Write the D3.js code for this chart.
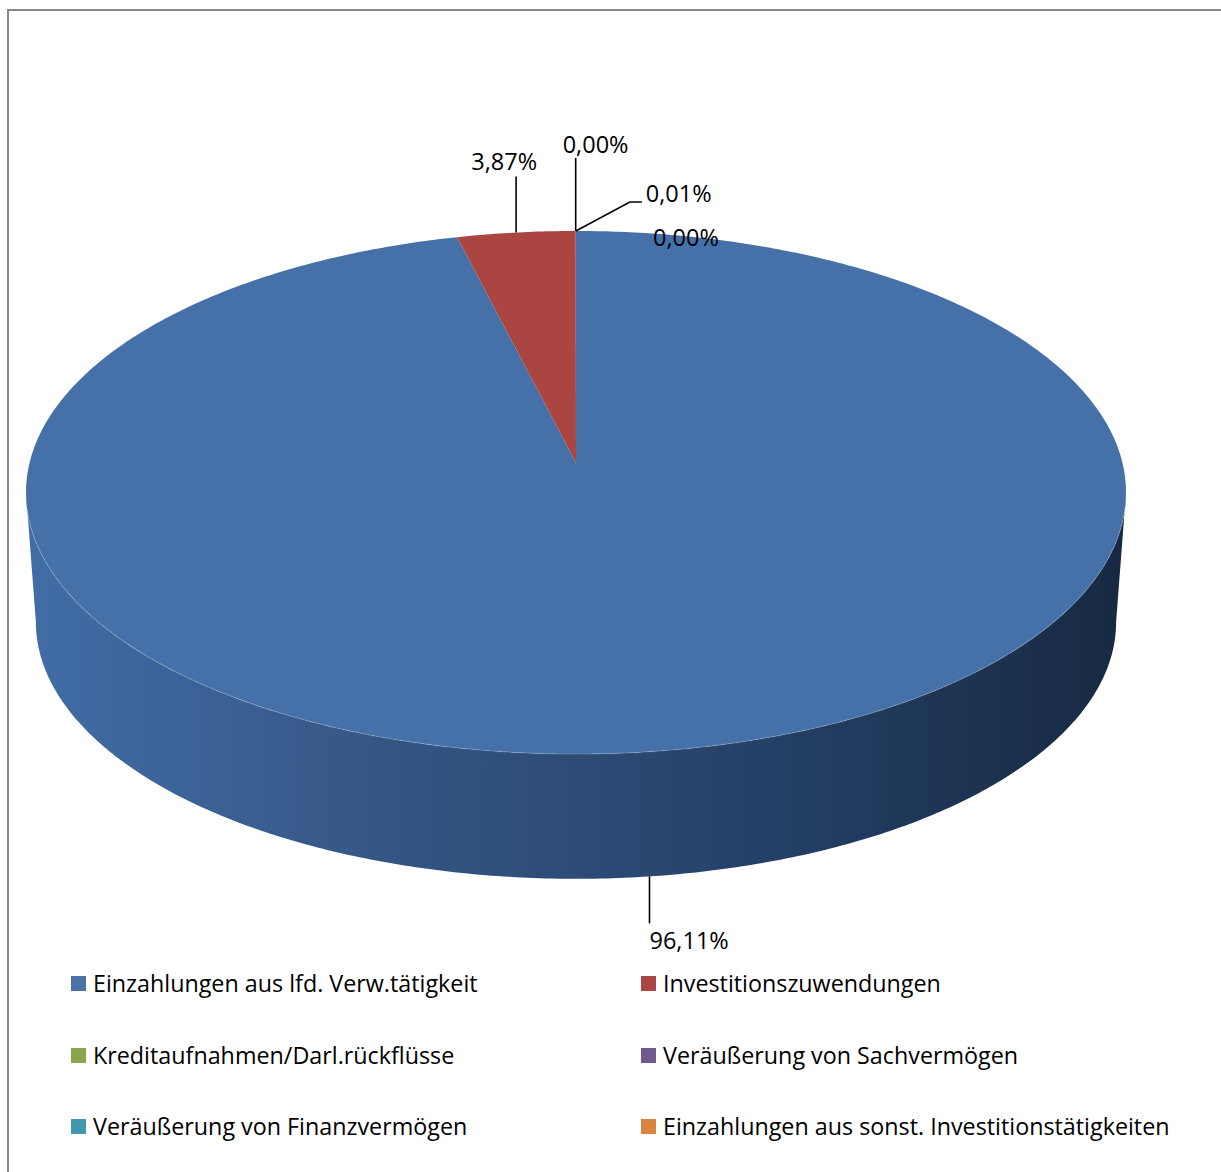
<!DOCTYPE html>
<html>
<head>
<meta charset="utf-8">
<script src="https://cdn.jsdelivr.net/npm/d3@7"></script>
<style>
  body { margin: 0; background: #fff; }
  text { font-family: "Open Sans", "Noto Sans", sans-serif; fill: #000; font-variant-ligatures: none; }
</style>
</head>
<body>
<div id="chart"></div>
<script>
// categories and shares (percent)
var categories = [
	"Einzahlungen aus lfd. Verw.tätigkeit",
	"Investitionszuwendungen",
	"Kreditaufnahmen/Darl.rückflüsse",
	"Veräußerung von Sachvermögen",
	"Veräußerung von Finanzvermögen",
	"Einzahlungen aus sonst. Investitionstätigkeiten"
];
var values = [96.11, 3.87, 0.00, 0.01, 0.00, 0.00];
var topColors = ["#4571a8", "#aa4541", "#89a54e", "#71588f", "#4198af", "#db843d"];
var legendColors = ["#4a72a6", "#aa4643", "#89a54e", "#71588f", "#4198af", "#db843d"];

var W = 1221, H = 1172;

//=================== GEOMETRY ====================================
var cx = 576, cy = 463,      // projected pie centre (top face)
	A = 546.5, B = 258.2,    // radii before perspective
	k = 0.1128,              // perspective strength
	cyBottom = 593, scBottom = 0.982;

// angle in radians, 0 = 12 o'clock, clockwise
function proj(theta, bottom) {
	var u = Math.sin(theta), v = -Math.cos(theta);
	var s = 1 / (1 - k * v);
	if (bottom) s *= scBottom;
	return [cx + A * u * s, (bottom ? cyBottom : cy) + B * v * s];
}

function arcPoints(a0, a1, bottom) {
	var n = Math.max(2, Math.ceil(Math.abs(a1 - a0) / 0.01));
	var pts = [];
	for (var i = 0; i <= n; i++) pts.push(proj(a0 + (a1 - a0) * i / n, bottom));
	return pts;
}

var svg = d3.select("#chart").append("svg")
	.attr("width", W)
	.attr("height", H);

var defs = svg.append("defs");
var sideGrad = defs.append("linearGradient")
	.attr("id", "sideGrad")
	.attr("gradientUnits", "userSpaceOnUse")
	.attr("x1", 27).attr("x2", 1126).attr("y1", 0).attr("y2", 0);
[[0, "#416da6"], [0.25, "#385b8c"], [0.5, "#2c4b75"], [0.75, "#213b5f"], [1, "#172941"]]
	.forEach(function (s) {
		sideGrad.append("stop").attr("offset", s[0]).attr("stop-color", s[1]);
	});

// frame (right and bottom edges run off the picture)
svg.append("rect")
	.attr("x", 8).attr("y", 10)
	.attr("width", 1300).attr("height", 1300)
	.attr("fill", "none")
	.attr("stroke", "#878787")
	.attr("stroke-width", 2);

var pie = d3.pie().sort(null).startAngle(0).endAngle(2 * Math.PI);
var arcs = pie(values);

var line = d3.line();

// side wall (only the front part is visible; it belongs to the big slice)
var thL = Math.PI - Math.acos(k), thR = Math.PI + Math.acos(k);
var sidePts = arcPoints(thL, thR, false).concat(arcPoints(thR, thL, true));
svg.append("path")
	.attr("d", line(sidePts) + "Z")
	.attr("fill", "url(#sideGrad)");

// top faces
svg.selectAll("path.slice")
	.data(arcs)
	.enter()
	.append("path")
	.classed("slice", true)
	.attr("d", function (d) {
		if (d.endAngle - d.startAngle <= 0) return null;
		var pts = [[cx, cy]].concat(arcPoints(d.startAngle, d.endAngle, false));
		return line(pts) + "Z";
	})
	.attr("fill", function (d, i) { return topColors[i]; });

// faint rim highlight on the front edge
svg.append("path")
	.attr("d", line(arcPoints(thL, thR, false)))
	.attr("fill", "none")
	.attr("stroke", "rgba(255,255,255,0.12)")
	.attr("stroke-width", 1.5);

//=================== LABELS ====================================
var de = d3.formatLocale({ decimal: ",", thousands: ".", grouping: [3], currency: ["", " €"] });
var fmt = de.format(".2f");

// label placement relative to the rim point of each slice
var labelLayout = [
	{ bottom: true, leader: [[0, 47]], dx: 0, dy: 64, anchor: "start" },
	{ leader: [[0, -56]], dx: 21, dy: -72, anchor: "end" },
	{ leader: [[0, -73]], dx: -13, dy: -87, anchor: "start" },
	{ leader: [[54, -29], [66, -29]], dx: 70, dy: -38, anchor: "start" },
	{ leader: null, dx: 77, dy: 6, anchor: "start" },
	null
];

var labelGrp = svg.append("g");
arcs.forEach(function (d, i) {
	var L = labelLayout[i];
	if (!L) return;
	var mid = (d.startAngle + d.endAngle) / 2;
	var p = proj(mid, !!L.bottom);
	if (L.leader) {
		var pts = [p].concat(L.leader.map(function (o) { return [p[0] + o[0], p[1] + o[1]]; }));
		labelGrp.append("path")
			.attr("d", line(pts))
			.attr("fill", "none")
			.attr("stroke", "#000")
			.attr("stroke-width", 1.6);
	}
	labelGrp.append("text")
		.attr("x", p[0] + L.dx)
		.attr("y", p[1] + L.dy)
		.attr("dominant-baseline", "central")
		.attr("text-anchor", L.anchor)
		.style("font-size", "23.5px")
		.text(fmt(d.data) + "%");
});

//=================== LEGEND ====================================
var legend = svg.append("g");
var legendCols = [71, 641], legendRows = [983, 1055, 1126];
var items = legend.selectAll("g.item")
	.data(categories)
	.enter()
	.append("g")
	.classed("item", true)
	.attr("transform", function (d, i) {
		return "translate(" + legendCols[i % 2] + "," + legendRows[Math.floor(i / 2)] + ")";
	});
items.append("rect")
	.attr("x", 0).attr("y", -7)
	.attr("width", 15).attr("height", 15)
	.attr("fill", function (d, i) { return legendColors[i]; });
items.append("text")
	.attr("x", 22)
	.attr("y", 0)
	.attr("dominant-baseline", "central")
	.style("font-size", "23.3px")
	.text(function (d) { return d; });
</script>
</body>
</html>
